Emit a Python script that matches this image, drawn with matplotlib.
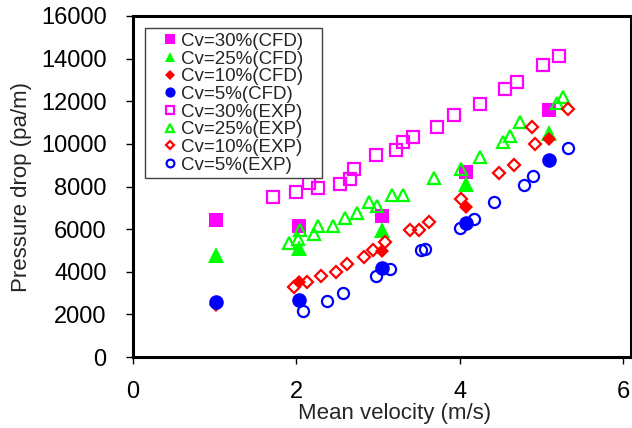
import matplotlib
matplotlib.use('Agg')
import matplotlib.pyplot as plt

plt.rcParams['font.family'] = ['Liberation Sans', 'DejaVu Sans']

# CFD results (filled markers)
cfd_x = [1.02, 2.03, 3.05, 4.08, 5.09]
cfd_30 = [6410, 6130, 6600, 8670, 11590]
cfd_25 = [4800, 5110, 5980, 8140, 10530]
cfd_10 = [2450, 3540, 4960, 7040, 10240]
cfd_5 = [2560, 2680, 4170, 6290, 9240]

# experimental data (open markers)
exp30_x = [1.71, 2.00, 2.16, 2.27, 2.53, 2.66, 2.70, 2.97, 3.22, 3.30, 3.43, 3.72, 3.93, 4.25, 4.55, 4.70, 5.02, 5.21]
exp30_y = [7500, 7730, 8170, 7940, 8140, 8330, 8830, 9460, 9690, 10090, 10340, 10810, 11370, 11890, 12560, 12910, 13690, 14130]

exp25_x = [1.91, 2.02, 2.05, 2.22, 2.27, 2.45, 2.60, 2.74, 2.89, 2.99, 3.17, 3.30, 3.68, 4.02, 4.25, 4.53, 4.61, 4.74, 5.19, 5.26]
exp25_y = [5350, 5540, 5980, 5790, 6160, 6160, 6530, 6760, 7260, 7100, 7580, 7620, 8410, 8800, 9400, 10090, 10370, 11030, 11900, 12220]

exp10_x = [1.97, 2.13, 2.30, 2.48, 2.62, 2.83, 2.94, 3.08, 3.39, 3.50, 3.62, 4.02, 4.48, 4.66, 4.88, 4.92, 5.33]
exp10_y = [3280, 3500, 3780, 3990, 4360, 4690, 5040, 5380, 5940, 5980, 6340, 7420, 8640, 8990, 10810, 9980, 11620]

exp5_x = [2.08, 2.38, 2.57, 2.97, 3.15, 3.53, 3.57, 4.00, 4.17, 4.42, 4.78, 4.89, 5.32]
exp5_y = [2180, 2650, 3000, 3810, 4130, 5000, 5070, 6060, 6480, 7260, 8090, 8490, 9820]

x_ticks = [0, 2, 4, 6]
y_ticks = [0, 2000, 4000, 6000, 8000, 10000, 12000, 14000, 16000]

MAG, GRN, RED, BLU = '#FF00FF', '#00FF00', '#FF0000', '#0000FF'

fig = plt.figure(figsize=(6.32, 4.28), dpi=100)
ax = fig.add_axes([133 / 632, 1 - 357 / 428, 498 / 632, 341 / 428])

ax.plot(cfd_x, cfd_30, 's', color=MAG, ms=10, mew=0, label='Cv=30%(CFD)')
ax.plot(cfd_x, cfd_25, '^', color=GRN, ms=11, mew=0, label='Cv=25%(CFD)')
ax.plot(cfd_x, cfd_10, 'D', color=RED, ms=7.5, mew=0, label='Cv=10%(CFD)')
ax.plot(cfd_x, cfd_5, 'o', color=BLU, ms=10.5, mew=0, label='Cv=5%(CFD)')
ax.plot(exp30_x, exp30_y, 's', mfc='none', mec=MAG, ms=8.5, mew=1.6, label='Cv=30%(EXP)')
ax.plot(exp25_x, exp25_y, '^', mfc='none', mec=GRN, ms=9, mew=1.6, label='Cv=25%(EXP)')
ax.plot(exp10_x, exp10_y, 'D', mfc='none', mec=RED, ms=6, mew=1.6, label='Cv=10%(EXP)')
ax.plot(exp5_x, exp5_y, 'o', mfc='none', mec=BLU, ms=8, mew=1.6, label='Cv=5%(EXP)')

ax.set_xlim(0, 6.095)
ax.set_ylim(0, 16000)
ax.set_xticks(x_ticks)
ax.set_yticks(y_ticks)
ax.tick_params(direction='out', length=5, width=1, labelsize=17, pad=12, colors='black')
ax.tick_params(axis='y', pad=14)
for sp in ax.spines.values():
    sp.set_linewidth(2.2)

fig.text(395 / 632, 1 - 413 / 428, 'Mean velocity (m/s)', ha='center', va='center',
         fontsize=16, color='#262626')
fig.text(22 / 632, 1 - 187 / 428, 'Pressure drop (pa/m)', ha='center', va='center',
         rotation=90, fontsize=16, color='#262626')

# legend box roughly at x 145..322, y 28..178 px
leg = ax.legend(loc='upper left', bbox_to_anchor=(145 / 632, 1 - 178 / 428, 177 / 632, 150 / 428),
                bbox_transform=fig.transFigure, mode='expand', borderaxespad=0,
                fontsize=13.5, labelspacing=0.03, handlelength=2.2, handletextpad=-0.55,
                borderpad=0.25, markerscale=0.7, fancybox=False, framealpha=1,
                edgecolor='#404040')
leg.get_frame().set_linewidth(1)
for t in leg.get_texts():
    t.set_color('#262626')

fig.savefig('out.png', dpi=100)
